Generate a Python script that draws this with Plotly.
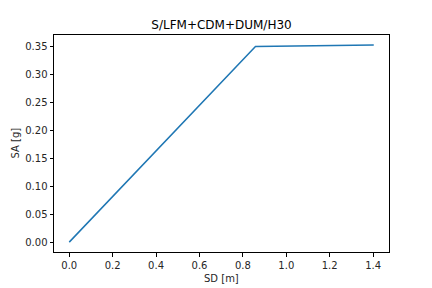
import plotly.graph_objects as go

sd = [0.0, 0.858, 1.403]
sa = [0.0, 0.3505, 0.3535]
x_ticks = [0.0, 0.2, 0.4, 0.6, 0.8, 1.0, 1.2, 1.4]
y_ticks = [0.00, 0.05, 0.10, 0.15, 0.20, 0.25, 0.30, 0.35]

fig = go.Figure()
fig.add_trace(go.Scatter(x=sd, y=sa, mode="lines",
                         line=dict(color="#1f77b4", width=1.5)))

font = dict(family="DejaVu Sans", size=10, color="#262626")
axis_common = dict(showgrid=False, zeroline=False, showline=True, linecolor="black",
                   linewidth=1, mirror=True, ticks="outside", ticklen=3.5,
                   tickwidth=0.8, tickcolor="black", tickfont=font, automargin=False)
fig.update_layout(
    width=432, height=288,
    margin=dict(l=54, r=43, t=35, b=36, autoexpand=False),
    paper_bgcolor="white", plot_bgcolor="white",
    showlegend=False,
    title=dict(text="S/LFM+CDM+DUM/H30", x=0.5, xanchor="center",
               xref="paper", y=1 - 25 / 288, yanchor="middle",
               font=dict(family="DejaVu Sans", size=12, color="black")),
    xaxis=dict(range=[-0.0702, 1.4732], tickvals=x_ticks,
               ticktext=[f"{v:.1f}" for v in x_ticks], **axis_common),
    yaxis=dict(range=[-0.0177, 0.3712], tickvals=y_ticks,
               ticktext=[f"{v:.2f}" for v in y_ticks], **axis_common),
    annotations=[
        dict(text="SD [m]", xref="paper", yref="paper", x=0.5, y=-26 / 217,
             xanchor="center", yanchor="middle", showarrow=False, font=font),
        dict(text="SA [g]", xref="paper", yref="paper", x=-39 / 335, y=0.5,
             xanchor="center", yanchor="middle", textangle=-90, showarrow=False, font=font),
    ],
)
fig.write_html("out.html")
